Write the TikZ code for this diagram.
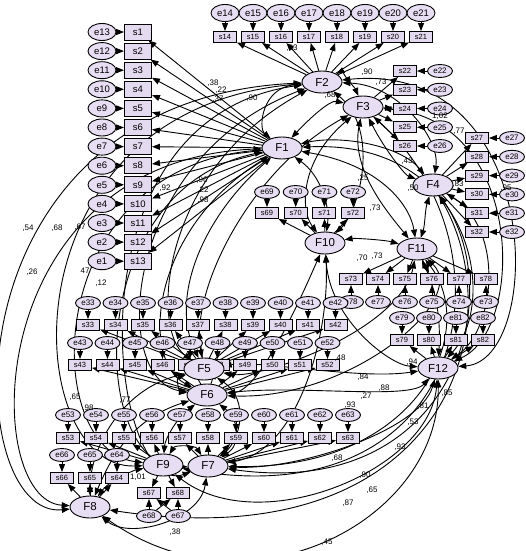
\documentclass[tikz,border=0pt]{standalone}
\usepackage{fontspec}
\setmainfont{Liberation Sans}
\usetikzlibrary{arrows.meta, shapes.geometric, backgrounds}
\definecolor{latFill}{HTML}{E8DEF3}
\definecolor{obsFill}{HTML}{E4DAF0}

\begin{document}
\begin{tikzpicture}[x=1pt, y=-1pt,
    lat/.style={ellipse, draw, line width=0.9pt, fill=latFill, minimum width=40pt, minimum height=22pt, inner sep=0pt, font=\fontsize{11.5}{11.5}\selectfont},
    obs/.style={rectangle, draw, line width=0.9pt, fill=obsFill, minimum width=27pt, minimum height=16pt, inner sep=0pt, font=\fontsize{9.5}{9.5}\selectfont},
    obss/.style={obs, minimum width=23pt, minimum height=11pt, font=\fontsize{7.5}{7.5}\selectfont},
    err/.style={ellipse, draw, line width=0.9pt, fill=latFill, minimum width=28pt, minimum height=17pt, inner sep=0pt, font=\fontsize{9.5}{9.5}\selectfont},
    errs/.style={err, minimum width=25pt, minimum height=13pt, font=\fontsize{8}{8}\selectfont},
    load/.style={-{Triangle[length=8pt,width=6pt]}, line width=0.9pt},
    cov/.style={{Triangle[length=8pt,width=6pt]}-{Triangle[length=8pt,width=6pt]}, line width=0.9pt},
    num/.style={font=\fontsize{8}{8}\selectfont, inner sep=0pt}]
  \useasboundingbox (0,0) rectangle (525,551);

  % left column s1..s13
  \foreach \i [evaluate=\i as \ey using 32+(\i-1)*19.1, evaluate=\i as \j using int(14-\i)] in {1,...,13} {
    \node[obs] (s\i) at (138,\ey) {s\i};
    \node[err] (e\j) at (102,\ey) {e\j};
  }
  % top row s14..s21
  \foreach \i [evaluate=\i as \ex using 225+(\i-14)*28] in {14,...,21} {
    \node[obss] (s\i) at (\ex,37) {s\i};
    \node[err] (e\i) at (\ex,13) {e\i};
  }
  % right columns
  \foreach \i [evaluate=\i as \ey using 71+(\i-22)*18.75] in {22,...,26} {
    \node[obss] (s\i) at (405,\ey) {s\i};
    \node[errs] (e\i) at (440,\ey) {e\i};
  }
  \foreach \i [evaluate=\i as \ey using 138+(\i-27)*18.8] in {27,...,32} {
    \node[obss] (s\i) at (477,\ey) {s\i};
    \node[errs] (e\i) at (512,\ey) {e\i};
  }
  % middle rows
  \foreach \i [evaluate=\i as \ex using 267+(\i-69)*28.7] in {69,...,72} {
    \node[obss] (s\i) at (\ex,213) {s\i};
    \node[errs] (e\i) at (\ex,192) {e\i};
  }
  \foreach \i [evaluate=\i as \ex using 351+(\i-73)*27, evaluate=\i as \j using int(151-\i)] in {73,...,78} {
    \node[obss] (s\i) at (\ex,279) {s\i};
    \node[errs] (e\j) at (\ex,302) {e\j};
  }
  \foreach \i [evaluate=\i as \ex using 402+(\i-79)*27] in {79,...,82} {
    \node[obss] (s\i) at (\ex,340) {s\i};
    \node[errs] (e\i) at (\ex,318) {e\i};
  }
  % lower rows
  \foreach \i [evaluate=\i as \ex using 88+(\i-33)*27.5] in {33,...,42} {
    \node[obss] (s\i) at (\ex,325) {s\i};
    \node[errs] (e\i) at (\ex,303) {e\i};
  }
  \foreach \i [evaluate=\i as \ex using 80+(\i-43)*27.5] in {43,...,52} {
    \node[obss] (s\i) at (\ex,365) {s\i};
    \node[errs] (e\i) at (\ex,343) {e\i};
  }
  \foreach \i [evaluate=\i as \ex using 68+(\i-53)*28] in {53,...,63} {
    \node[obss] (s\i) at (\ex,438) {s\i};
    \node[errs] (e\i) at (\ex,415) {e\i};
  }
  \foreach \i/\ex in {64/117, 65/90, 66/62} {
    \node[obss] (s\i) at (\ex,478) {s\i};
    \node[errs] (e\i) at (\ex,455) {e\i};
  }
  \node[obss] (s67) at (149,493) {s67};
  \node[obss] (s68) at (178,493) {s68};
  \node[errs] (e68) at (149,516) {e68};
  \node[errs] (e67) at (178,516) {e67};

  % factors
  \node[lat] (F2) at (322,82) {F2};
  \node[lat] (F1) at (282,148) {F1};
  \node[lat] (F3) at (363,107) {F3};
  \node[lat] (F4) at (433,185) {F4};
  \node[lat] (F10) at (325,243) {F10};
  \node[lat] (F11) at (417,249) {F11};
  \node[lat] (F12) at (438,368) {F12};
  \node[lat] (F5) at (204,369) {F5};
  \node[lat] (F6) at (207,395) {F6};
  \node[lat] (F7) at (208,466) {F7};
  \node[lat] (F9) at (163,465) {F9};
  \node[lat] (F8) at (90,507) {F8};

  % coefficients
  \foreach \x/\y/\t [count=\k] in {213/83/{,38}, 221/90/{,22}, 218/99/{,37}, 252/98/{,90},
      330/95/{,68}, 367/72/{,90}, 381/82/{,73}, 292/48/{,83}, 165/188/{,92}, 202/180/{,96},
      203/190/{,22}, 203/200/{,98}, 440/116/{1,02}, 459/131/{,77}, 407/161/{,43}, 413/188/{,50},
      458/184/{,83}, 506/188/{,95}, 363/178/{,25}, 375/208/{,73}, 362/258/{,70}, 377/256/{,73},
      340/358/{,48}, 412/362/{,94}, 363/377/{,84}, 366/396/{,27}, 384/388/{,88}, 447/393/{,85},
      423/406/{,81}, 413/422/{,53}, 350/405/{,93}, 400/447/{,93}, 337/458/{,68}, 365/475/{,90},
      372/490/{,65}, 348/503/{,87}, 327/542/{,45}, 175/532/{,38}, 138/477/{1,01}, 75/397/{,65},
      125/400/{,77}, 88/408/{,98}, 28/228/{,54}, 57/228/{,68}, 80/227/{,67}, 32/272/{,26},
      85/271/{47}, 101/283/{,12}} {
    \node[num] (lab\k) at (\x,\y) {\t};
  }

  \begin{scope}[on background layer]
    % measurement paths
    \foreach \i in {1,...,13} \draw[load] (F1) -- (s\i);
    \foreach \i in {14,...,21} \draw[load] (F2) -- (s\i);
    \foreach \i in {22,...,26} \draw[load] (F3) -- (s\i);
    \foreach \i in {27,...,32} \draw[load] (F4) -- (s\i);
    \foreach \i in {69,...,72} \draw[load] (F10) -- (s\i);
    \foreach \i in {73,...,78} \draw[load] (F11) -- (s\i);
    \foreach \i in {79,...,82} \draw[load] (F12) -- (s\i);
    \foreach \i in {33,...,42} \draw[load] (F5) -- (s\i);
    \foreach \i in {43,...,52} \draw[load] (F6) -- (s\i);
    \foreach \i in {57,...,63} \draw[load] (F7) -- (s\i);
    \foreach \i in {53,...,56,67,68} \draw[load] (F9) -- (s\i);
    \foreach \i in {64,65,66} \draw[load] (F8) -- (s\i);
    % error terms
    \foreach \i [evaluate=\i as \j using int(14-\i)] in {1,...,13} \draw[load] (e\j) -- (s\i);
    \foreach \i in {14,...,72,79,80,81,82} \draw[load] (e\i) -- (s\i);
    \foreach \i [evaluate=\i as \j using int(151-\i)] in {73,...,78} \draw[load] (e\j) -- (s\i);
    \draw[load] (e68) -- (s67);
    \draw[load] (e67) -- (s68);

    % covariances, upper factors
    \draw[cov] (F2) .. controls (262,88) and (258,128) .. (F1);
    \draw[cov] (F2) .. controls (340,72) and (355,88) .. (F3);
    \draw[cov] (F1) .. controls (310,118) and (330,100) .. (F3);
    \draw[cov] (F2) .. controls (400,85) and (440,140) .. (F4);
    \draw[cov] (F1) .. controls (340,135) and (400,145) .. (F4);
    \draw[cov] (F3) .. controls (385,150) and (405,175) .. (F4);
    \draw[cov] (F1) .. controls (320,175) and (330,205) .. (F10);
    \draw[cov] (F2) .. controls (380,130) and (360,210) .. (F10);
    \draw[cov] (F3) .. controls (300,160) and (300,210) .. (F10);
    \draw[cov] (F1) .. controls (380,165) and (410,205) .. (F11);
    \draw[cov] (F3) .. controls (350,170) and (390,215) .. (F11);
    \draw[cov] (F4) .. controls (425,210) and (425,225) .. (F11);
    \draw[cov] (F10) .. controls (355,238) and (385,240) .. (F11);
    % right side
    \draw[cov] (F2) .. controls (545,60) and (545,360) .. (F12);
    \draw[cov] (F3) .. controls (525,120) and (525,330) .. (F12);
    \draw[cov] (F4) .. controls (505,230) and (495,330) .. (F12);
    \draw[cov] (F1) .. controls (470,140) and (500,300) .. (F12);
    \draw[cov] (F11) .. controls (440,300) and (440,330) .. (F12);
    \draw[cov] (F10) .. controls (330,320) and (390,365) .. (F12);
    % down to the lower factors
    \draw[cov] (F12) .. controls (410,400) and (300,385) .. (F6);
    \draw[cov] (F12) .. controls (360,380) and (260,360) .. (F5);
    \draw[cov] (F12) .. controls (420,430) and (300,470) .. (F7);
    \draw[cov] (F12) .. controls (430,470) and (260,540) .. (F9);
    \draw[cov] (F12) .. controls (440,520) and (250,620) .. (F8);
    \draw[cov] (F11) .. controls (480,330) and (420,470) .. (F7);
    \draw[cov] (F11) .. controls (470,300) and (350,400) .. (F6);
    \draw[cov] (F11) .. controls (400,330) and (260,380) .. (F5);
    \draw[cov] (F4) .. controls (510,300) and (450,500) .. (F7);
    \draw[cov] (F4) .. controls (515,330) and (440,560) .. (F8);
    \draw[cov] (F3) .. controls (520,250) and (470,520) .. (F9);
    \draw[cov] (F10) .. controls (300,300) and (260,390) .. (F6);
    \draw[cov] (F10) .. controls (330,330) and (300,450) .. (F7);
    % left side
    \draw[cov] (F2) .. controls (-60,100) and (-40,520) .. (F8);
    \draw[cov] (F1) .. controls (-20,160) and (-20,500) .. (F8);
    \draw[cov] (F2) .. controls (0,110) and (20,470) .. (F9);
    \draw[cov] (F1) .. controls (40,170) and (40,450) .. (F9);
    \draw[cov] (F1) .. controls (80,190) and (90,470) .. (F7);
    \draw[cov] (F2) .. controls (60,120) and (110,500) .. (F7);
    \draw[cov] (F1) .. controls (200,220) and (170,300) .. (F5);
    \draw[cov] (F1) .. controls (150,230) and (140,360) .. (F6);
    \draw[cov] (F2) .. controls (160,170) and (150,330) .. (F5);
    \draw[cov] (F2) .. controls (120,160) and (110,380) .. (F6);
    \draw[cov] (F3) .. controls (250,170) and (190,290) .. (F5);
    % among the lower factors
    \draw[cov] (F5) .. controls (175,378) and (180,392) .. (F6);
    \draw[cov] (F6) .. controls (240,420) and (240,445) .. (F7);
    \draw[cov] (F9) .. controls (175,445) and (195,445) .. (F7);
    \draw[cov] (F8) .. controls (110,480) and (135,470) .. (F9);
    \draw[cov] (F8) .. controls (130,540) and (200,520) .. (F7);
    \draw[cov] (F5) .. controls (120,390) and (90,450) .. (F8);
    \draw[cov] (F6) .. controls (130,420) and (110,460) .. (F8);
    \draw[cov] (F6) .. controls (175,420) and (165,440) .. (F9);
    \draw[cov] (F5) .. controls (250,400) and (240,440) .. (F7);
  \end{scope}
\end{tikzpicture}
\end{document}
